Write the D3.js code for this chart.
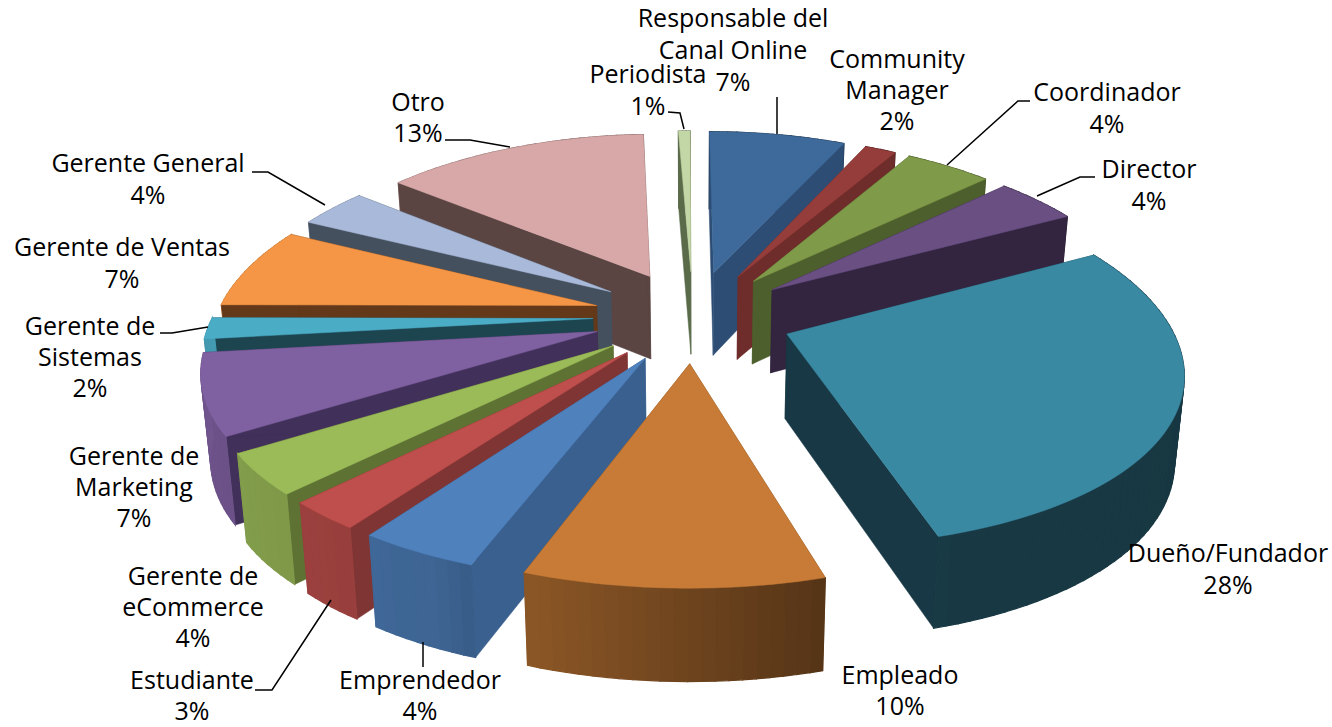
<!DOCTYPE html>
<html lang="en">

<head>
  <meta charset="utf-8">
  <title>Pie 3D</title>
  <style>
    html, body { margin: 0; background: #fff; }
    text { font-family: "Open Sans", sans-serif; font-size: 25px; fill: #000; }
  </style>
</head>

<body>
  <script src="https://d3js.org/d3.v7.min.js"></script>
  <script>
    var categories = ["Responsable del Canal Online", "Community Manager", "Coordinador", "Director",
      "Dueño/Fundador", "Empleado", "Emprendedor", "Estudiante", "Gerente de eCommerce",
      "Gerente de Marketing", "Gerente de Sistemas", "Gerente de Ventas", "Gerente General", "Otro", "Periodista"];
    var values = [7.0, 1.6, 4.4, 4.2, 28.2, 10.0, 4.1, 2.6, 3.7, 7.2, 1.9, 7.2, 3.5, 13.49, 0.6];
    var percentLabels = ["7%", "2%", "4%", "4%", "28%", "10%", "4%", "3%", "4%", "7%", "2%", "7%", "4%", "13%", "1%"];

    var topColors = ["#3e6a9b", "#953d3b", "#7f9a48", "#694f82", "#3a89a3", "#c77b36", "#4f81bd", "#be4f4c",
      "#9bbb59", "#7f60a0", "#4bacc6", "#f49646", "#a9b9d9", "#d8a8a8", "#c3d6a5"];
    var wallColors = ["#2d4d74", "#6e2c2a", "#4d5f2c", "#33243f", "#173844", "#7a4b20", "#3a608f", "#803535",
      "#5e7333", "#40305a", "#1d4550", "#63391a", "#44505e", "#5a4543", "#5a6b4a"];

    // label lines (name part), centre x, first baseline, line step
    var labels = [
      { lines: ["Responsable del", "Canal Online"], x: 733, y: 27, dy: 32 },
      { lines: ["Community", "Manager"], x: 897, y: 68, dy: 31 },
      { lines: ["Coordinador"], x: 1107, y: 101, dy: 32 },
      { lines: ["Director"], x: 1149, y: 178, dy: 32 },
      { lines: ["Dueño/Fundador"], x: 1228, y: 562, dy: 32 },
      { lines: ["Empleado"], x: 900, y: 684, dy: 31 },
      { lines: ["Emprendedor"], x: 420, y: 689, dy: 31 },
      { lines: ["Estudiante"], x: 192, y: 689, dy: 31 },
      { lines: ["Gerente de", "eCommerce"], x: 193, y: 585, dy: 31 },
      { lines: ["Gerente de", "Marketing"], x: 134, y: 465, dy: 31 },
      { lines: ["Gerente de", "Sistemas"], x: 90, y: 335, dy: 31 },
      { lines: ["Gerente de Ventas"], x: 122, y: 256, dy: 32 },
      { lines: ["Gerente General"], x: 148, y: 172, dy: 32 },
      { lines: ["Otro"], x: 418, y: 111, dy: 31 },
      { lines: ["Periodista"], x: 648, y: 83, dy: 32 }
    ];
    var leaders = [
      [[777, 97], [777, 134]],
      [[668, 112], [680, 113], [684, 129]],
      [[1030, 101], [1018, 101], [947, 165]],
      [[1095, 177], [1080, 177], [1037, 196]],
      [[445, 140], [470, 140], [510, 147]],
      [[252, 172], [268, 172], [325, 205]],
      [[160, 333], [172, 333], [208, 327]],
      [[255, 690], [272, 690], [331, 600]],
      [[423, 667], [423, 642]]
    ];

    var width = 1332, height = 727;
    var cx = 693, cy = 316;
    var radius = 380, explode = 100, tilt = 0.459, perspX = 2110, perspY = 2518, depth = 84;
    var rotation = -0.2 * Math.PI / 180;

    // shade of the rim by angle (degrees clockwise from the back)
    var rimShade = d3.scaleLinear()
      .domain([0, 100, 163, 199, 205, 270, 360])
      .range([0.5, 0.4, 0.42, 0.7, 0.78, 0.9, 0.5])
      .clamp(true);

    function project(X, Y, z) {
      var kx = 1 / (1 - Y / perspX), ky = 1 / (1 - Y / perspY);
      return [cx + X * kx * (z ? 0.98 : 1),
        cy + Y * tilt * ky + (z ? depth * Math.sqrt(ky) : 0)];
    }

    var svg = d3.select("body").append("svg")
      .attr("width", width)
      .attr("height", height)
      .style("display", "block");

    var line = d3.line();
    var arcs = d3.pie().sort(null)
      .startAngle(rotation)
      .endAngle(rotation + 2 * Math.PI)
      .value(function(d) { return d; })(values);

    var slices = arcs.map(function(a, i) {
      var mid = (a.startAngle + a.endAngle) / 2;
      var ox = Math.sin(mid) * explode, oy = -Math.cos(mid) * explode;
      return { i: i, start: a.startAngle, end: a.endAngle, ox: ox, oy: oy };
    }).sort(function(p, q) { return p.oy - q.oy; });

    slices.forEach(function(s) {
      var g = svg.append("g");
      var steps = Math.max(3, Math.ceil((s.end - s.start) / 0.03));
      var angles = d3.range(steps + 1).map(function(j) {
        return s.start + (s.end - s.start) * j / steps;
      });
      function rim(a, z) {
        return project(s.ox + Math.sin(a) * radius, s.oy - Math.cos(a) * radius, z);
      }
      var apex = project(s.ox, s.oy, 0), apexB = project(s.ox, s.oy, 1);

      function shadeOf(a) {
        var shade = rimShade(((a * 180 / Math.PI) + 360) % 360);
        var c = d3.rgb(topColors[s.i]);
        return d3.rgb(c.r * shade, c.g * shade, c.b * shade).formatHex();
      }
      function wallSeg(a0, a1) {
        var col = shadeOf((a0 + a1) / 2);
        g.append("path")
          .attr("d", line([rim(a0, 0), rim(a1, 0), rim(a1, 1), rim(a0, 1)]) + "Z")
          .attr("fill", col).attr("stroke", col).attr("stroke-width", 1.2);
      }
      function isFront(a) { return Math.cos(a) < 0; }

      // back part of the rim first, then radial walls, then front rim, then top
      d3.pairs(angles).forEach(function(p) { if (!isFront((p[0] + p[1]) / 2)) wallSeg(p[0], p[1]); });
      [s.start, s.end].forEach(function(a) {
        g.append("path")
          .attr("d", line([apex, rim(a, 0), rim(a, 1), apexB]) + "Z")
          .attr("fill", wallColors[s.i]).attr("stroke", wallColors[s.i]).attr("stroke-width", 0.5);
      });
      d3.pairs(angles).forEach(function(p) { if (isFront((p[0] + p[1]) / 2)) wallSeg(p[0], p[1]); });

      var pts = [apex].concat(angles.map(function(a) { return rim(a, 0); }));
      g.append("path")
        .attr("d", line(pts) + "Z")
        .attr("fill", topColors[s.i]).attr("stroke", topColors[s.i]).attr("stroke-width", 0.5);
    });

    svg.selectAll("path.leader")
      .data(leaders)
      .enter()
      .append("path")
      .attr("class", "leader")
      .attr("d", function(d) { return line(d); })
      .attr("fill", "none")
      .attr("stroke", "#000")
      .attr("stroke-width", 1.5);

    labels.forEach(function(l, i) {
      l.lines.concat([percentLabels[i]]).forEach(function(t, j) {
        svg.append("text")
          .attr("x", l.x)
          .attr("y", l.y + j * l.dy)
          .attr("text-anchor", "middle")
          .text(t);
      });
    });
  </script>
</body>

</html>
